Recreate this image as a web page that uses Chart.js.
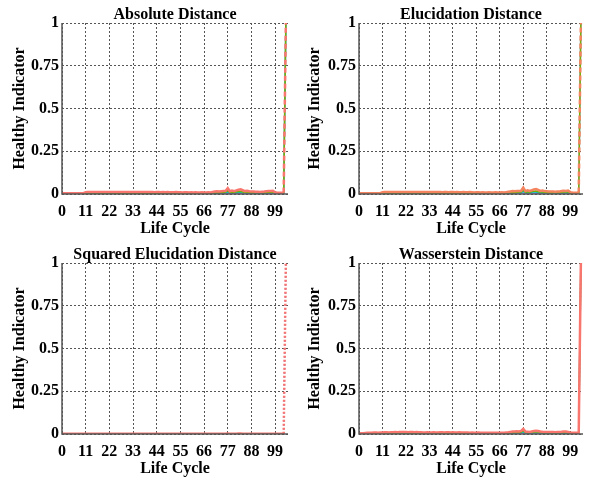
<!DOCTYPE html>
<html>
<head>
<meta charset="utf-8">
<script src="https://cdn.jsdelivr.net/npm/chart.js@4.4.1/dist/chart.umd.min.js"></script>
<style>
html, body { margin: 0; padding: 0; background: #fff; }
#wrap { position: relative; width: 589px; height: 482px; }
.cell { position: absolute; width: 294px; height: 241px; }
</style>
</head>
<body>
<div id="wrap">
  <div class="cell" style="left:0;top:0"><canvas id="c1"></canvas></div>
  <div class="cell" style="left:295px;top:0"><canvas id="c2"></canvas></div>
  <div class="cell" style="left:0;top:240px"><canvas id="c3"></canvas></div>
  <div class="cell" style="left:295px;top:240px"><canvas id="c4"></canvas></div>
</div>
<script>
// === life cycle index (x) and ticks ===
const cycles = [
  0,1,2,3,4,5,6,7,8,9,10,11,12,13,14,15,16,17,18,19,20,21,22,23,24,25,26,27,28,29,30,
  31,32,33,34,35,36,37,38,39,40,41,42,43,44,45,46,47,48,49,50,51,52,53,54,55,56,57,58,59,60,
  61,62,63,64,65,66,67,68,69,70,71,72,73,74,75,76,77,78,79,80,81,82,83,84,85,86,87,88,89,90,
  91,92,93,94,95,96,97,98,99,100,101,102,103,104
];
const xTicks = [0, 11, 22, 33, 44, 55, 66, 77, 88, 99];
const yTicks = [0, 0.25, 0.5, 0.75, 1];

// === Absolute Distance ===
const absRed = [
  0.004,0.004,0.005,0.004,0.005,0.005,0.004,0.005,0.005,0.004,0.005,
  0.011,0.012,0.012,0.011,0.012,0.012,0.011,0.012,0.012,0.011,
  0.012,0.012,0.011,0.012,0.012,0.011,0.011,0.012,0.012,0.011,
  0.012,0.011,0.011,0.012,0.011,0.011,0.012,0.011,0.011,0.011,
  0.011,0.011,0.010,0.011,0.011,0.010,0.011,0.010,0.011,0.010,
  0.010,0.010,0.011,0.010,0.010,0.009,0.010,0.010,0.009,0.010,
  0.009,0.010,0.009,0.009,0.010,0.009,0.009,0.010,0.009,0.012,
  0.014,0.016,0.015,0.016,0.017,0.018,0.034,0.016,0.020,0.017,
  0.021,0.025,0.027,0.022,0.017,0.019,0.016,0.015,0.014,0.013,
  0.013,0.012,0.013,0.014,0.016,0.018,0.017,0.019,0.010,0.008,
  0.008,0.007,0.008,1.000
];
const absGreen = [
  0.006,0.006,0.007,0.006,0.007,0.007,0.006,0.007,0.007,0.006,0.007,
  0.006,0.006,0.005,0.006,0.006,0.005,0.006,0.006,0.005,0.006,
  0.006,0.005,0.006,0.006,0.005,0.006,0.005,0.006,0.006,0.005,
  0.005,0.006,0.005,0.005,0.006,0.005,0.005,0.005,0.006,0.005,
  0.005,0.005,0.005,0.004,0.005,0.005,0.004,0.005,0.004,0.005,
  0.004,0.005,0.004,0.004,0.005,0.004,0.004,0.004,0.005,0.004,
  0.004,0.004,0.004,0.005,0.004,0.004,0.004,0.005,0.005,0.006,
  0.007,0.008,0.008,0.009,0.010,0.011,0.020,0.009,0.012,0.010,
  0.013,0.015,0.016,0.012,0.010,0.011,0.009,0.008,0.008,0.007,
  0.007,0.007,0.008,0.008,0.009,0.011,0.010,0.012,0.006,0.005,
  0.005,0.004,0.005,1.000
];
const absCyan = [
  0.003,0.003,0.004,0.003,0.004,0.004,0.003,0.004,0.004,0.003,0.004,
  0.005,0.005,0.004,0.005,0.005,0.004,0.005,0.005,0.004,0.005,
  0.005,0.004,0.005,0.005,0.004,0.005,0.004,0.005,0.005,0.004,
  0.004,0.005,0.004,0.004,0.005,0.004,0.004,0.004,0.005,0.004,
  0.004,0.004,0.004,0.003,0.004,0.004,0.003,0.004,0.003,0.004,
  0.003,0.004,0.003,0.003,0.004,0.003,0.003,0.003,0.004,0.003,
  0.003,0.003,0.003,0.004,0.003,0.003,0.003,0.004,0.004,0.005,
  0.005,0.006,0.006,0.007,0.007,0.008,0.013,0.007,0.009,0.008,
  0.009,0.010,0.011,0.009,0.007,0.008,0.007,0.006,0.006,0.006,
  0.005,0.005,0.006,0.006,0.007,0.008,0.007,0.008,0.004,0.004,
  0.004,0.003,0.004,1.000
];
const absPurple = [
  0.001,0.001,0.002,0.001,0.002,0.002,0.001,0.002,0.002,0.001,0.002,
  0.002,0.002,0.002,0.003,0.002,0.002,0.002,0.003,0.002,0.002,
  0.002,0.002,0.003,0.002,0.002,0.002,0.002,0.003,0.002,0.002,
  0.002,0.002,0.002,0.002,0.003,0.002,0.002,0.002,0.002,0.002,
  0.002,0.002,0.002,0.002,0.002,0.002,0.001,0.002,0.002,0.002,
  0.002,0.001,0.002,0.002,0.001,0.002,0.002,0.001,0.002,0.001,
  0.001,0.002,0.001,0.002,0.001,0.002,0.001,0.002,0.002,0.002,
  0.003,0.003,0.003,0.003,0.004,0.004,0.006,0.003,0.004,0.004,
  0.004,0.005,0.005,0.004,0.003,0.004,0.003,0.003,0.003,0.003,
  0.003,0.002,0.003,0.003,0.003,0.004,0.003,0.004,0.002,0.002,
  0.002,0.001,0.002,1.000
];

// === Elucidation Distance ===
const elucRed = [
  0.004,0.005,0.005,0.004,0.005,0.005,0.005,0.004,0.005,0.005,0.005,
  0.011,0.012,0.012,0.012,0.011,0.012,0.012,0.012,0.011,0.012,
  0.012,0.011,0.012,0.012,0.011,0.012,0.011,0.011,0.012,0.011,
  0.011,0.012,0.011,0.011,0.011,0.012,0.011,0.011,0.010,0.011,
  0.011,0.010,0.011,0.011,0.010,0.011,0.010,0.010,0.011,0.010,
  0.010,0.011,0.010,0.009,0.010,0.010,0.009,0.010,0.009,0.009,
  0.010,0.009,0.009,0.010,0.009,0.009,0.010,0.009,0.011,0.013,
  0.015,0.017,0.016,0.017,0.018,0.019,0.038,0.017,0.021,0.018,
  0.022,0.027,0.029,0.024,0.018,0.020,0.017,0.016,0.015,0.014,
  0.014,0.013,0.014,0.015,0.017,0.019,0.018,0.020,0.011,0.009,
  0.008,0.008,0.009,1.000
];
const elucGreen = [
  0.006,0.007,0.007,0.006,0.007,0.007,0.007,0.006,0.007,0.007,0.007,
  0.006,0.006,0.006,0.005,0.006,0.006,0.005,0.006,0.006,0.005,
  0.006,0.006,0.005,0.006,0.005,0.006,0.006,0.005,0.006,0.005,
  0.005,0.006,0.005,0.006,0.005,0.005,0.005,0.006,0.005,0.005,
  0.005,0.004,0.005,0.005,0.005,0.004,0.005,0.004,0.005,0.005,
  0.004,0.004,0.005,0.004,0.004,0.005,0.004,0.004,0.004,0.004,
  0.005,0.004,0.004,0.004,0.005,0.004,0.004,0.005,0.006,0.007,
  0.008,0.009,0.008,0.010,0.011,0.012,0.022,0.010,0.013,0.011,
  0.014,0.016,0.017,0.013,0.011,0.012,0.010,0.009,0.008,0.008,
  0.008,0.007,0.008,0.009,0.010,0.012,0.011,0.013,0.006,0.005,
  0.005,0.005,0.005,1.000
];
const elucCyan = [
  0.003,0.004,0.004,0.003,0.004,0.004,0.004,0.003,0.004,0.004,0.004,
  0.005,0.004,0.005,0.005,0.004,0.005,0.005,0.004,0.005,0.005,
  0.004,0.005,0.005,0.004,0.005,0.004,0.005,0.005,0.004,0.004,
  0.005,0.004,0.004,0.005,0.004,0.004,0.005,0.004,0.004,0.004,
  0.004,0.003,0.004,0.004,0.003,0.004,0.004,0.003,0.004,0.003,
  0.003,0.004,0.003,0.003,0.003,0.004,0.003,0.003,0.003,0.003,
  0.003,0.004,0.003,0.003,0.003,0.004,0.003,0.004,0.004,0.005,
  0.006,0.006,0.007,0.007,0.008,0.008,0.015,0.007,0.009,0.008,
  0.010,0.011,0.012,0.009,0.008,0.008,0.007,0.007,0.006,0.006,
  0.006,0.005,0.006,0.006,0.007,0.008,0.008,0.009,0.004,0.004,
  0.004,0.004,0.004,1.000
];
const elucPurple = [
  0.001,0.002,0.002,0.001,0.002,0.002,0.002,0.001,0.002,0.002,0.002,
  0.002,0.002,0.003,0.002,0.002,0.002,0.003,0.002,0.002,0.002,
  0.003,0.002,0.002,0.002,0.002,0.003,0.002,0.002,0.002,0.002,
  0.002,0.002,0.003,0.002,0.002,0.002,0.002,0.002,0.002,0.002,
  0.002,0.002,0.002,0.001,0.002,0.002,0.002,0.002,0.001,0.002,
  0.001,0.002,0.002,0.001,0.002,0.001,0.002,0.002,0.001,0.002,
  0.002,0.001,0.002,0.001,0.002,0.002,0.001,0.002,0.002,0.002,
  0.003,0.003,0.003,0.004,0.004,0.004,0.007,0.003,0.004,0.004,
  0.005,0.005,0.006,0.004,0.004,0.004,0.003,0.003,0.003,0.003,
  0.003,0.003,0.003,0.003,0.003,0.004,0.004,0.004,0.002,0.002,
  0.002,0.002,0.002,1.000
];

// === Squared Elucidation Distance ===
const sqRed = [
  0.001,0.001,0.001,0.001,0.001,0.001,0.001,0.001,0.001,0.001,0.001,
  0.002,0.002,0.002,0.002,0.002,0.002,0.002,0.002,0.002,0.002,
  0.002,0.002,0.002,0.002,0.002,0.002,0.002,0.002,0.002,0.002,
  0.002,0.002,0.002,0.002,0.002,0.002,0.002,0.002,0.002,0.002,
  0.002,0.002,0.001,0.002,0.002,0.001,0.002,0.001,0.002,0.001,
  0.001,0.001,0.002,0.001,0.001,0.001,0.001,0.001,0.001,0.001,
  0.001,0.001,0.001,0.001,0.001,0.001,0.001,0.001,0.001,0.002,
  0.002,0.002,0.002,0.002,0.002,0.002,0.003,0.002,0.002,0.002,
  0.002,0.003,0.003,0.002,0.002,0.002,0.002,0.002,0.002,0.002,
  0.002,0.002,0.002,0.002,0.002,0.002,0.002,0.002,0.001,0.001,
  0.001,0.001,0.001,1.000
];
const sqPurple = [
  0.000,0.000,0.000,0.000,0.000,0.000,0.000,0.000,0.000,0.000,0.000,
  0.001,0.001,0.001,0.001,0.001,0.001,0.001,0.001,0.001,0.001,
  0.001,0.001,0.001,0.001,0.001,0.001,0.001,0.001,0.001,0.001,
  0.001,0.001,0.001,0.001,0.001,0.001,0.001,0.001,0.001,0.001,
  0.001,0.001,0.000,0.001,0.001,0.000,0.001,0.000,0.001,0.000,
  0.000,0.000,0.001,0.000,0.000,0.000,0.000,0.000,0.000,0.000,
  0.000,0.000,0.000,0.000,0.000,0.000,0.000,0.000,0.000,0.001,
  0.001,0.001,0.001,0.001,0.001,0.001,0.001,0.001,0.001,0.001,
  0.001,0.001,0.001,0.001,0.001,0.001,0.001,0.001,0.001,0.001,
  0.001,0.001,0.001,0.001,0.001,0.001,0.001,0.001,0.000,0.000,
  0.000,0.000,0.000,1.000
];

// === Wasserstein Distance ===
const wassRed = [
  0.003,0.004,0.005,0.006,0.007,0.008,0.008,0.009,0.009,0.008,0.009,
  0.009,0.010,0.010,0.009,0.010,0.010,0.011,0.010,0.011,0.011,
  0.011,0.011,0.010,0.011,0.011,0.010,0.011,0.010,0.010,0.009,
  0.009,0.010,0.009,0.009,0.010,0.009,0.009,0.010,0.010,0.009,
  0.010,0.010,0.009,0.010,0.009,0.009,0.010,0.009,0.009,0.009,
  0.009,0.008,0.009,0.008,0.008,0.009,0.008,0.008,0.008,0.008,
  0.008,0.008,0.007,0.008,0.008,0.007,0.008,0.008,0.009,0.010,
  0.012,0.014,0.015,0.016,0.015,0.018,0.030,0.014,0.013,0.012,
  0.015,0.017,0.019,0.018,0.015,0.013,0.012,0.012,0.011,0.011,
  0.011,0.010,0.011,0.012,0.013,0.015,0.014,0.012,0.009,0.008,
  0.008,0.007,0.008,1.000
];
const wassGreen = [
  0.002,0.003,0.003,0.004,0.004,0.005,0.005,0.005,0.006,0.005,0.006,
  0.006,0.006,0.006,0.006,0.006,0.007,0.006,0.007,0.006,0.007,
  0.007,0.006,0.007,0.006,0.007,0.006,0.006,0.006,0.006,0.006,
  0.006,0.006,0.006,0.005,0.006,0.006,0.005,0.006,0.006,0.005,
  0.006,0.005,0.006,0.005,0.005,0.006,0.005,0.005,0.005,0.005,
  0.005,0.005,0.005,0.005,0.004,0.005,0.005,0.004,0.005,0.004,
  0.004,0.005,0.004,0.004,0.005,0.004,0.005,0.005,0.005,0.006,
  0.007,0.008,0.009,0.010,0.009,0.011,0.019,0.009,0.008,0.008,
  0.010,0.012,0.013,0.012,0.010,0.008,0.008,0.007,0.007,0.007,
  0.007,0.006,0.007,0.007,0.008,0.009,0.009,0.008,0.005,0.005,
  0.005,0.004,0.005,1.000
];
const wassCyan = [
  0.001,0.002,0.002,0.003,0.003,0.003,0.004,0.004,0.004,0.004,0.004,
  0.004,0.004,0.005,0.004,0.004,0.005,0.005,0.004,0.005,0.005,
  0.005,0.004,0.005,0.005,0.004,0.005,0.004,0.004,0.005,0.004,
  0.004,0.004,0.004,0.004,0.004,0.004,0.004,0.004,0.004,0.004,
  0.004,0.004,0.004,0.004,0.004,0.004,0.004,0.003,0.004,0.004,
  0.003,0.004,0.003,0.003,0.003,0.004,0.003,0.003,0.003,0.003,
  0.003,0.003,0.003,0.003,0.003,0.003,0.003,0.003,0.004,0.004,
  0.005,0.006,0.006,0.007,0.006,0.008,0.013,0.006,0.006,0.006,
  0.007,0.008,0.009,0.008,0.007,0.006,0.005,0.005,0.005,0.005,
  0.005,0.004,0.005,0.005,0.005,0.006,0.006,0.005,0.004,0.003,
  0.003,0.003,0.003,1.000
];
const wassPurple = [
  0.001,0.001,0.001,0.001,0.002,0.002,0.002,0.002,0.002,0.002,0.002,
  0.002,0.002,0.002,0.002,0.002,0.002,0.002,0.002,0.002,0.002,
  0.002,0.002,0.002,0.002,0.002,0.002,0.002,0.002,0.002,0.002,
  0.002,0.002,0.002,0.002,0.002,0.002,0.002,0.002,0.002,0.002,
  0.002,0.002,0.002,0.002,0.002,0.002,0.002,0.002,0.002,0.002,
  0.002,0.002,0.002,0.002,0.001,0.002,0.002,0.001,0.002,0.001,
  0.001,0.001,0.001,0.001,0.001,0.001,0.001,0.002,0.002,0.002,
  0.002,0.003,0.003,0.003,0.003,0.004,0.006,0.003,0.003,0.003,
  0.003,0.004,0.004,0.004,0.003,0.003,0.003,0.002,0.002,0.002,
  0.002,0.002,0.002,0.002,0.002,0.003,0.003,0.002,0.002,0.001,
  0.001,0.001,0.001,1.000
];

// === colours ===
const RED = "#F8766D";
const GREEN = "#7CAE00";
const CYAN = "#00BFC4";
const PURPLE = "#A58AFF";
const FONT = "'Liberation Serif', 'Times New Roman', serif";
const LAST = cycles.length - 1;

// assi sinistro e inferiore pieni (la griglia resta tratteggiata)
const axisLines = {
    id: "axisLines",
    afterDatasetsDraw(chart) {
        const { ctx, chartArea: a } = chart;
        ctx.save();
        ctx.strokeStyle = "#555";
        ctx.lineWidth = 1.5;
        ctx.beginPath();
        ctx.moveTo(a.left, a.top);
        ctx.lineTo(a.left, a.bottom);
        ctx.lineTo(a.right, a.bottom);
        ctx.stroke();
        ctx.restore();
    }
};

function series(values, color, width, spikeDash) {
    return {
        data: values,
        borderColor: color,
        backgroundColor: color,
        borderWidth: width,
        pointRadius: 0,
        tension: 0,
        fill: false,
        segment: {
            borderDash: ctx => (ctx.p1DataIndex === LAST ? spikeDash : undefined)
        }
    };
}

function makeChart(id, title, datasets, yWidth) {
    new Chart(document.getElementById(id), {
        type: "line",
        data: { labels: cycles, datasets: datasets },
        plugins: [axisLines],
        options: {
            responsive: true,
            maintainAspectRatio: false,
            animation: false,
            events: [],
            layout: { padding: { left: 0, right: 6, top: 0, bottom: 0 } },
            plugins: {
                legend: { display: false },
                tooltip: { enabled: false },
                title: {
                    display: true,
                    text: title,
                    fullSize: false,
                    color: "#000",
                    font: { family: FONT, size: 16, weight: "bold", lineHeight: 1 },
                    padding: { top: 7, bottom: 0 }
                }
            },
            scales: {
                x: {
                    type: "linear",
                    min: 0,
                    max: 105,
                    afterBuildTicks: s => { s.ticks = xTicks.map(v => ({ value: v })); },
                    afterFit: s => { s.height = 47; },
                    grid: { color: "#555", lineWidth: 1, drawTicks: false },
                    border: { display: false, dash: [2, 2] },
                    ticks: {
                        color: "#000",
                        padding: 8,
                        maxRotation: 0,
                        autoSkip: false,
                        font: { family: FONT, size: 16, weight: "bold" }
                    },
                    title: {
                        display: true,
                        text: "Life Cycle",
                        color: "#000",
                        font: { family: FONT, size: 16, weight: "bold" },
                        padding: { top: 0, bottom: 3 }
                    }
                },
                y: {
                    min: 0,
                    max: 1,
                    afterBuildTicks: s => { s.ticks = yTicks.map(v => ({ value: v })); },
                    afterFit: s => { s.width = yWidth; },
                    grid: { color: "#555", lineWidth: 1, drawTicks: false },
                    border: { display: false, dash: [2, 2] },
                    ticks: {
                        color: "#000",
                        padding: 3,
                        font: { family: FONT, size: 16, weight: "bold" },
                        callback: v => String(v)
                    },
                    title: {
                        display: true,
                        text: "Healthy Indicator",
                        color: "#000",
                        font: { family: FONT, size: 16, weight: "bold" },
                        padding: { top: 10, bottom: 0 }
                    }
                }
            }
        }
    });
}

makeChart("c1", "Absolute Distance", [
    series(absRed, RED, 2.5, [5, 3]),
    series(absGreen, GREEN, 1.5, undefined),
    series(absCyan, CYAN, 1.5, undefined),
    series(absPurple, PURPLE, 1.5, undefined)
], 62);

makeChart("c2", "Elucidation Distance", [
    series(elucRed, "#F4845F", 2.5, [5, 3]),
    series(elucGreen, GREEN, 1.5, undefined),
    series(elucCyan, CYAN, 1.5, [2, 2]),
    series(elucPurple, PURPLE, 1.5, undefined)
], 64);

makeChart("c3", "Squared Elucidation Distance", [
    series(sqRed, RED, 2.5, [2, 2]),
    series(sqPurple, PURPLE, 1.5, [2, 2])
], 62);

makeChart("c4", "Wasserstein Distance", [
    series(wassRed, RED, 2.5, undefined),
    series(wassGreen, GREEN, 1.5, undefined),
    series(wassCyan, CYAN, 1.5, [2, 2]),
    series(wassPurple, PURPLE, 1.5, undefined)
], 64);
</script>
</body>
</html>
